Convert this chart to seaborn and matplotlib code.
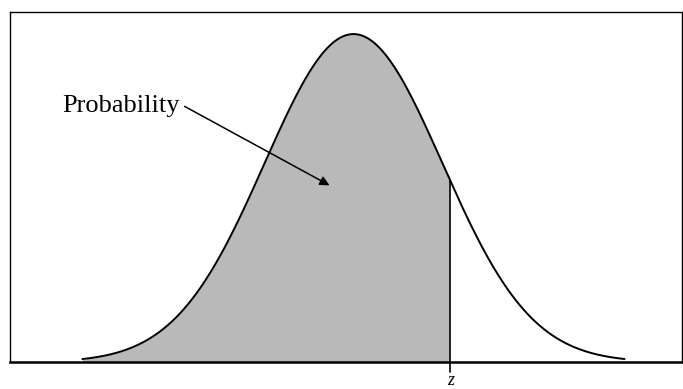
import numpy as np
import pandas as pd
import seaborn as sns
import matplotlib.pyplot as plt

# Standard normal curve, shaded up to z
mu = 0.0
sigma = 1.0
x_lo, x_hi = -3.05, 3.05
z_value = 1.09
area_label = "Probability"
z_label = "z"

sns.set_theme(style="white")
plt.rcParams['font.family'] = ['Liberation Serif', 'DejaVu Serif']
plt.rcParams['text.color'] = 'black'

xs = np.linspace(x_lo, x_hi, 400)
pdf = np.exp(-0.5 * ((xs - mu) / sigma) ** 2) / (sigma * np.sqrt(2 * np.pi))
curve = pd.DataFrame({'x': xs, 'density': pdf})
shade = curve[curve['x'] <= z_value]
z_height = np.exp(-0.5 * ((z_value - mu) / sigma) ** 2) / (sigma * np.sqrt(2 * np.pi))

fig = plt.figure(figsize=(6.83, 3.89), dpi=100)
ax = fig.add_axes([0.014, 0.069, 0.985, 0.9])

ax.fill_between(shade['x'], 0, shade['density'], color='#b9b9b9', linewidth=0)
sns.lineplot(data=curve, x='x', y='density', ax=ax, color='black', linewidth=1.4)

# vertical line at z, running a little below the baseline
ax.plot([z_value, z_value], [-0.012, z_height], color='black', linewidth=1.2,
        clip_on=False)
ax.text(z_value, -0.022, z_label, ha='center', va='center', fontsize=13,
        style='italic', color='black', clip_on=False)

# label and its arrow
ax.text(-1.955, 0.312, area_label, fontsize=19, ha='right', va='center',
        color='black')
ax.annotate('', xy=(-0.27, 0.215), xytext=(-1.9, 0.311),
            arrowprops=dict(arrowstyle='-|>', color='black', lw=1.1,
                            mutation_scale=14, shrinkA=0, shrinkB=0))

ax.set_xlim(-3.87, 3.70)
ax.set_ylim(0, 0.4257)
ax.set_xticks([])
ax.set_yticks([])
ax.set_xlabel('')
ax.set_ylabel('')
for side in ['left', 'top', 'right']:
    ax.spines[side].set_linewidth(1.0)
    ax.spines[side].set_color('black')
ax.spines['bottom'].set_linewidth(1.8)
ax.spines['bottom'].set_color('black')

plt.savefig('out.png', dpi=100)
plt.close()
